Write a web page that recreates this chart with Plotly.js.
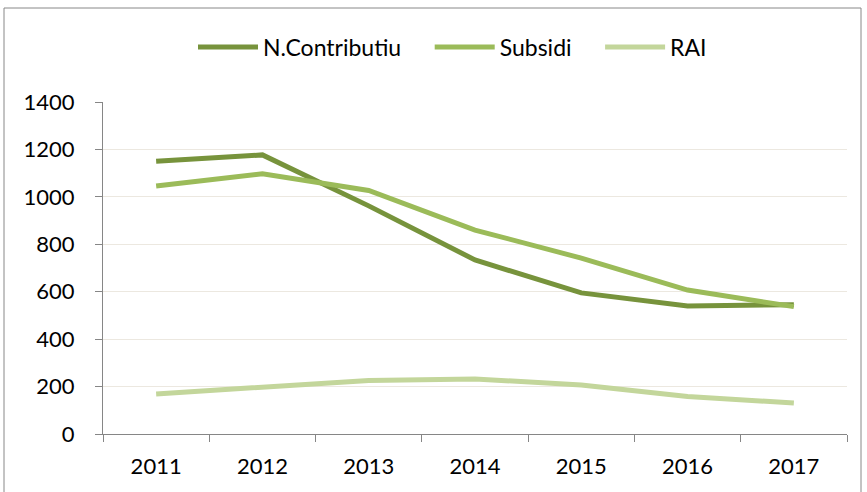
<!DOCTYPE html>
<html>
<head>
<meta charset="utf-8">
<script src="https://cdn.plot.ly/plotly-3.0.1.min.js"></script>
<style>html,body{margin:0;padding:0;background:#fff;}#chart{width:867px;height:492px;}</style>
</head>
<body>
<div id="chart"></div>
<script>
const years = ['2011','2012','2013','2014','2015','2016','2017'];
const nContributiu = [1150, 1177, 962, 734, 595, 540, 545];
const subsidi = [1046, 1097, 1027, 860, 742, 607, 537];
const rai = [169, 195, 226, 232, 207, 158, 131];
const seriesNames = ['N.Contributiu', 'Subsidi', 'RAI'];
const colors = ['#77933C', '#9BBB59', '#C3D69B'];

const pad = ['\u00a0\u00a0\u00a0\u00a0', '\u00a0\u00a0\u00a0\u00a0', ''];
const all = [nContributiu, subsidi, rai];
const traces = all.map((v, i) => ({
  x: years, y: v, type: 'scatter', mode: 'lines', name: seriesNames[i] + pad[i],
  line: {color: colors[i], width: 5}
}));

const font = {family: 'Lato, "Open Sans", sans-serif', size: 22, color: '#000'};
const lfont = {family: 'Lato, "Open Sans", sans-serif', size: 23, color: '#000'};
const L = 103, R = 847, T = 102, B = 434;
const pw = R - L, ph = B - T;
const px = x => (x - L) / pw;
const py = y => (B - y) / ph;

const layout = {
  width: 867, height: 492,
  margin: {l: L, r: 867 - R, t: T, b: 492 - B},
  paper_bgcolor: '#fff', plot_bgcolor: '#fff',
  font: font,
  showlegend: true,
  legend: {orientation: 'h', x: px(193), xanchor: 'left', y: py(47), yanchor: 'middle',
           font: lfont, itemwidth: 60, traceorder: 'normal'},
  xaxis: {type: 'category', range: [-0.5, 6.5], showgrid: false, showline: true,
          linecolor: '#868686', linewidth: 1, ticks: 'outside', tickson: 'boundaries',
          ticklen: 7, tickcolor: '#868686', tickfont: font, ticklabelstandoff: 13, zeroline: false},
  yaxis: {range: [0, 1400], dtick: 200, showgrid: true, gridcolor: '#ECE8E0', gridwidth: 1,
          showline: true, linecolor: '#868686', linewidth: 1, ticks: 'outside', ticklen: 7,
          tickcolor: '#868686', tickfont: font, zeroline: false, ticklabelstandoff: 16},
  shapes: [{type: 'rect', xref: 'paper', yref: 'paper', x0: px(4), x1: px(861), y0: py(500), y1: py(8),
            line: {color: '#888888', width: 1}, fillcolor: 'rgba(0,0,0,0)', layer: 'below'}]
};

Plotly.newPlot('chart', traces, layout, {displayModeBar: false, staticPlot: true});
</script>
</body>
</html>
